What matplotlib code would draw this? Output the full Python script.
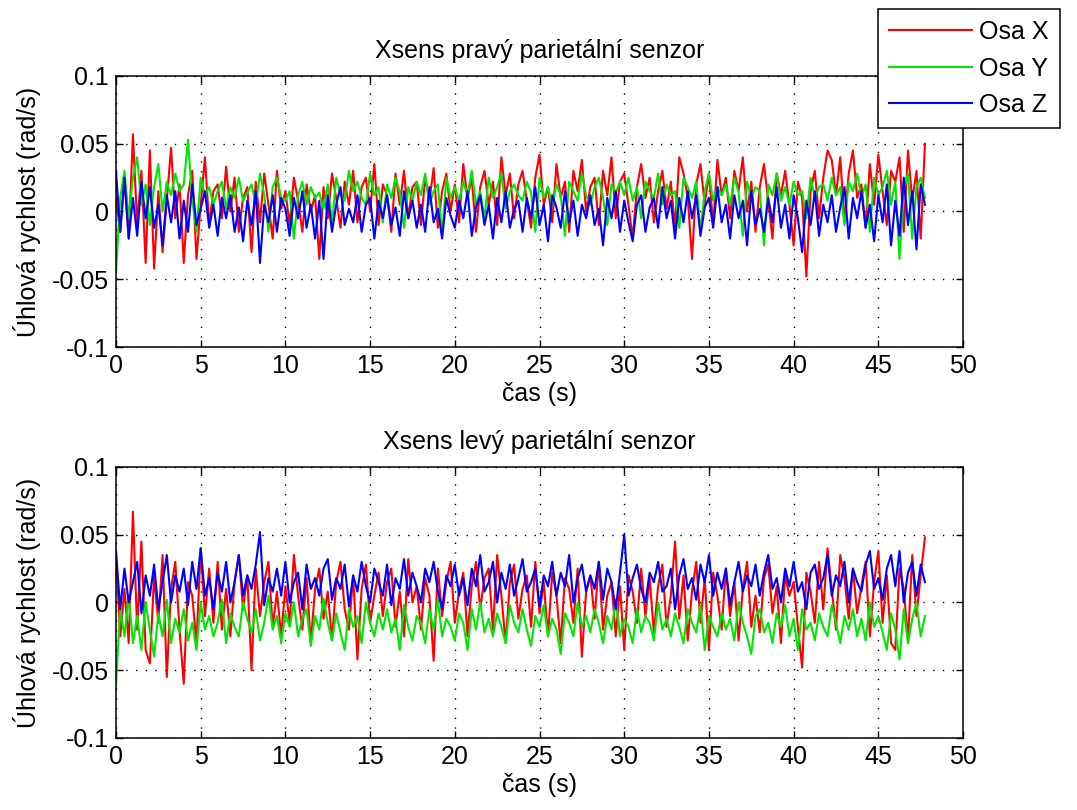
import matplotlib
matplotlib.use('Agg')
import matplotlib.pyplot as plt
from matplotlib.ticker import FuncFormatter
import numpy as np

plt.rcParams['font.family'] = ['Liberation Sans', 'DejaVu Sans']
plt.rcParams['axes.unicode_minus'] = False

# sampling step of the hand-read values (s)
dt = 0.25

# values, in thousandths of rad/s
# top plot - right parietal sensor
right_x = [10, -15, 25, -20, 57, -10, 30, -38,
           45, -42, 15, -30, 8, 47, -5, 20,
           -38, 12, 30, -35, 5, 40, -10, 15,
           20, -5, 33, 0, 25, -15, 10, 18,
           -30, 22, -8, 28, 5, -20, 30, 2,
           15, -10, 25, 8, -15, 20, 0, 12,
           -35, 18, -5, 28, 10, -12, 22, 5,
           30, -8, 18, 25, 0, 35, -10, 20,
           12, -15, 28, 5, 30, -5, 18, 22,
           -10, 25, 8, 32, -12, 15, 28, 0,
           20, -8, 35, 10, 25, -15, 18, 30,
           5, 22, -10, 40, 12, 28, -5, 20,
           30, 8, -12, 25, 42, 5, 18, -8,
           35, 10, 22, -15, 30, 15, 38, 0,
           18, 25, -10, 30, 12, 40, -5, 22,
           28, 5, -20, 18, 35, 10, 25, -8,
           15, 30, 2, 22, -12, 40, 28, 10,
           -35, 20, 35, 5, 28, -10, 38, 12,
           25, -5, 30, 15, 40, 0, 22, -15,
           18, 35, 8, -20, 28, 12, 30, 5,
           -25, 22, 10, -48, 15, 30, -5, 25,
           45, 38, 12, 40, -8, 28, 45, 10,
           20, -12, 35, 5, 42, 15, -10, 30,
           22, 40, -15, 45, 8, 30, -20, 50]
right_y = [-45, 10, 30, -5, 25, 40, 5, 20,
           -10, 18, 35, 0, 22, 12, 28, 15,
           20, 53, 8, -15, 25, 12, 18, 5,
           15, 22, 2, 18, 10, 25, 8, 14,
           20, 5, 28, 12, -15, 18, 25, 10,
           8, 15, -20, 12, 22, 5, 18, 10,
           14, 2, 20, -10, 25, 12, 8, 30,
           15, 22, 10, 5, 28, 12, 18, -8,
           20, 10, 25, 14, -12, 18, 8, 22,
           12, 28, 5, 15, 20, -18, 25, 10,
           18, 8, 22, 12, 30, 5, 15, -5,
           25, 10, 18, 28, 2, 15, 20, 12,
           8, 22, 14, -15, 25, 10, 18, 5,
           20, 12, -18, 22, 15, 8, 28, 12,
           5, 18, 25, 10, -10, 20, 14, 22,
           12, 25, 8, 18, -5, 22, 15, 10,
           28, 5, 20, 12, 15, -12, 25, 18,
           10, 22, -15, 15, 28, 8, 18, 12,
           20, 5, 25, 14, -18, 22, 10, 18,
           15, -25, 20, 12, 28, 8, 18, 5,
           22, 12, 15, -5, 25, 10, 18, 20,
           8, 25, 12, 18, -10, 22, 15, 28,
           10, 20, -15, 25, 12, 18, 30, 5,
           22, -35, 15, 28, -20, 18, 25, 10]
right_z = [30, -15, 25, -20, 10, -18, 22, -5,
           18, -12, 5, -25, 12, -8, 15, -20,
           8, -15, 20, -10, 2, 15, -12, 5,
           -18, 10, -5, 12, -15, 3, -22, 8,
           -10, 15, -38, 5, -8, 12, -15, 10,
           2, -18, 10, -5, 15, -12, 5, -20,
           8, -35, 12, -15, 5, 18, -10, 2,
           -8, 12, -15, 5, 10, -20, 8, -5,
           12, -10, 3, -18, 15, -5, 8, -12,
           5, -15, 18, -8, 2, -20, 10, -3,
           -12, 8, -5, 15, -18, 3, 12, -10,
           5, -20, 10, -8, 15, -12, 2, 8,
           -15, 10, -5, 18, -10, 5, -22, 12,
           3, -12, 15, -8, 8, -18, 5, -5,
           12, -10, 2, -25, 10, -5, 15, -15,
           8, -8, -22, 5, 12, -15, 3, 10,
           -12, 18, -5, 8, -20, 10, -8, 15,
           -5, 12, -18, 3, 10, -12, 18, -8,
           5, -20, 12, -5, 8, -25, 15, -10,
           2, -15, 10, -8, 18, -12, 5, -20,
           12, -5, -30, 8, -10, 15, -18, 5,
           -8, 12, -15, 3, 18, -20, 10, -5,
           15, -12, 5, -22, 12, -8, 20, -25,
           8, -18, 25, -10, 15, -28, 20, 5]

# bottom plot - left parietal sensor
left_x = [35, -25, 10, -30, 67, -20, 45, -35,
          -45, 20, -15, 35, -55, 10, 30, -20,
          -60, 15, 5, -30, 40, -10, 25, -15,
          30, -20, 10, -25, 15, 35, -5, 20,
          -50, 25, -10, 15, 30, -18, 8, -25,
          12, -15, 35, 5, -20, 18, -30, 10,
          25, -12, 8, -28, 15, 30, -5, -20,
          20, -42, 10, 28, -15, 5, 22, -10,
          15, 25, -18, 8, -25, 32, 0, 12,
          -20, 18, 5, -43, 25, -10, 15, 30,
          -15, 8, 22, -25, 12, 30, -5, 18,
          25, -20, 35, 5, -30, 15, 28, -12,
          10, 20, -18, 30, -8, 15, -25, 22,
          5, -30, 18, 10, -15, 25, -40, 8,
          20, -12, 30, -20, 5, 15, -25, 12,
          -35, 20, 8, -15, 25, -10, 18, -22,
          12, 28, -18, 5, 45, -12, 20, -28,
          8, 30, -15, 18, -35, 22, 5, -20,
          25, -10, 15, -28, 10, 30, -18, 5,
          -22, 18, 28, -8, 12, -30, 20, 5,
          15, -18, -48, 22, 8, -15, 30, -5,
          40, 10, -20, 35, 18, -12, 25, -8,
          12, 30, -25, 15, 38, -15, 20, -30,
          -35, 25, 10, -28, 35, -10, 20, 48]
left_y = [-60, -5, -25, 5, -30, -10, -35, 0,
          -20, -40, -8, -25, 2, -30, -12, -22,
          -5, -28, -15, -35, 0, -20, -10, -25,
          -15, 2, -30, -8, -18, -25, 0, -12,
          -22, -5, -28, -15, 5, -20, -10, -30,
          -8, -18, 0, -25, -12, -5, -32, -10,
          -20, 3, -15, -28, -8, -22, -35, -5,
          -18, -10, -30, 0, -15, -25, -8, -20,
          -5, -22, -12, -35, -2, -18, -28, -10,
          -15, -30, -5, -20, 2, -25, -12, -18,
          -28, -8, -15, -35, -5, -20, 0, -22,
          -12, -25, -8, -18, -30, -2, -15, -22,
          -5, -20, -32, -10, -18, -2, -25, -12,
          -20, -38, -8, -15, -25, 0, -18, -10,
          -22, -5, -15, -30, -10, -20, 2, -25,
          -12, -18, -30, -5, -22, -10, -15, -28,
          0, -20, -12, -25, -8, -18, -30, -5,
          -15, -22, -2, -35, -10, -18, -25, -8,
          -20, -12, -28, 0, -15, -25, -38, -10,
          -5, -22, -15, -30, -8, -18, -2, -25,
          -12, -35, -5, -20, -15, -28, -8, -18,
          -25, -2, -15, -30, -10, -20, -5, -25,
          -12, -28, 0, -18, -10, -22, -35, -8,
          -20, -42, -5, -30, -12, 0, -25, -10]
left_z = [38, -5, 25, 0, 15, 30, -8, 20,
          5, 28, -5, 15, 35, 0, 20, 8,
          25, -2, 30, 10, 40, 5, 18, -5,
          22, 8, 30, 0, 15, 35, 5, 20,
          10, 28, 52, -2, 18, 8, 25, 5,
          30, 0, 15, 22, -5, 28, 10, 18,
          5, 25, 32, 2, 18, 10, 28, -3,
          20, 8, 30, 12, 0, 25, 15, 5,
          28, -2, 18, 10, 32, 5, 22, 12,
          0, 25, 15, 30, 8, -5, 20, 12,
          28, 5, 18, -2, 25, 12, 35, 8,
          15, 30, 0, 22, 10, 28, 5, 18,
          32, 8, 15, 25, -3, 20, 12, 30,
          5, 22, 12, 35, 0, 18, 28, 8,
          20, 10, 30, 2, 25, 15, -5, 22,
          50, 5, 18, 28, 10, 0, 22, 15,
          30, 8, 12, 25, -5, 20, 32, 10,
          18, 2, 28, 15, 35, 5, 22, 10,
          25, -2, 15, 30, 8, 20, 12, 28,
          5, 22, 35, 10, 18, 0, 25, 12,
          30, 8, 15, -5, 22, 28, 10, 18,
          35, 5, 20, 12, 30, 0, 25, 15,
          8, 28, 38, 10, 18, 2, 25, 35,
          12, 38, 0, 22, 30, 5, 28, 15]

titles = ['Xsens pravý parietální senzor', 'Xsens levý parietální senzor']
labels = ['Osa X', 'Osa Y', 'Osa Z']
colors = ['#ff0000', '#00e600', '#0000ff']

fs = 18


def draw(ax, series, title):
	lines = []
	for vals, c in zip(series, colors):
		v = np.asarray(vals) / 1000.0
		t = np.arange(len(v)) * dt
		ln, = ax.plot(t, v, color=c, lw=1.5)
		lines.append(ln)
	ax.set_xlim(0, 50)
	ax.set_ylim(-0.1, 0.1)
	ax.set_xticks(range(0, 51, 5))
	ax.set_yticks([-0.1, -0.05, 0, 0.05, 0.1])
	ax.yaxis.set_major_formatter(FuncFormatter(lambda y, p: '%g' % y))
	ax.grid(True, color='black', linestyle=(0, (1, 6)), lw=1.0)
	ax.tick_params(direction='in', top=True, right=True, length=5,
				   labelsize=fs, width=1.0, pad=5)
	for s in ax.spines.values():
		s.set_linewidth(1.1)
	ax.set_title(title, fontsize=fs, pad=13)
	ax.set_xlabel('čas (s)', fontsize=fs, labelpad=3)
	ax.set_ylabel('Úhlová rychlost (rad/s)', fontsize=fs, labelpad=8)
	return lines


fig = plt.figure(figsize=(10.77, 8.10), dpi=100)
ax1 = fig.add_axes([0.1077, 0.5716, 0.7865, 0.3346])
ax2 = fig.add_axes([0.1077, 0.0889, 0.7865, 0.3346])

lines = draw(ax1, [right_x, right_y, right_z], titles[0])
draw(ax2, [left_x, left_y, left_z], titles[1])

leg = fig.legend(lines, labels, loc='upper right', bbox_to_anchor=(0.984, 0.989),
				 borderaxespad=0, fontsize=fs, fancybox=False, framealpha=1,
				 edgecolor='black', handlelength=3.3, labelspacing=0.5,
				 borderpad=0.45, handletextpad=0.3)
leg.get_frame().set_linewidth(1.1)

plt.savefig('out.png', dpi=100)
plt.close()
